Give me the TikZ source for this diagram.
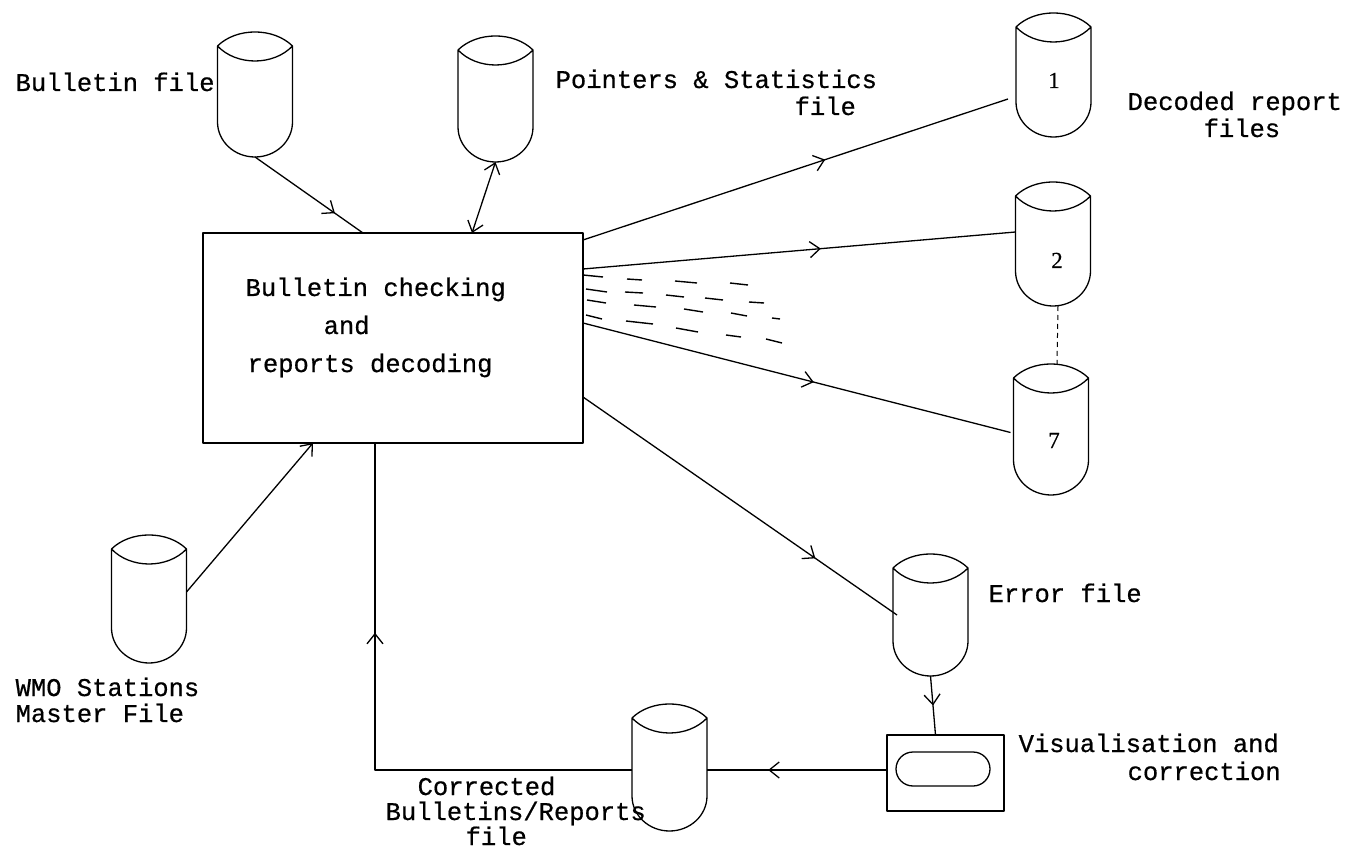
\documentclass[tikz,border=0pt]{standalone}
\usepackage{fontspec}
\setmonofont{Liberation Mono}[FakeBold=0.6]
\newfontfamily\digitfont{Liberation Serif}[FakeBold=0.4]
\usetikzlibrary{arrows.meta,decorations.markings,calc}
\newcommand\cylshape[2]{%
  \draw[shift={(#1.north west)}] (0,14) .. controls (19,-4.7) and (56,-4.7) .. (75,14)
     .. controls (56,34) and (19,34) .. (0,14) -- (0,#2-35)
     .. controls (0,#2-15.7) and (16.8,#2) .. (37.5,#2)
     .. controls (58.2,#2) and (75,#2-15.7) .. (75,#2-35) -- (75,14);
}
\begin{document}
\begin{tikzpicture}[x=1pt,y=-1pt, line width=1.3pt, line join=round,
  >={Straight Barb[length=10pt,width=16pt]},
  dbfile/.style={draw=none,minimum width=75pt,minimum height=#1pt,inner sep=0pt,outer sep=0pt},
  boxed/.style={draw,inner sep=0pt,outer sep=0pt},
  lbl/.style={font=\ttfamily\fontsize{25.5}{27}\selectfont, anchor=base west, inner sep=0pt},
  num/.style={font=\digitfont\fontsize{23}{25}\selectfont, anchor=base, inner sep=0pt},
  midarr/.style={postaction={decorate,decoration={markings,mark=at position #1 with {\arrow{>}}}}},
  dashmark/.style={line width=1.4pt}]
\useasboundingbox (0,0) rectangle (1355,850);

% main process box
\node[boxed, minimum width=380pt, minimum height=210pt] (main) at (393,338) {};
\node[lbl] (tm1) at (245,296) {Bulletin checking};
\node[lbl] (tm2) at (323,334) {and};
\node[lbl] (tm3) at (247,372) {reports decoding};

% files (cylinders)
\node[dbfile=125] (bf) at (255,94.5) {};
\node[dbfile=126] (ps) at (495.5,99) {};
\node[dbfile=124] (d1) at (1053.5,75) {};
\node[dbfile=124] (d2) at (1053,244) {};
\node[dbfile=131] (d7) at (1051,429.5) {};
\node[dbfile=122] (ef) at (930.5,615) {};
\node[dbfile=127] (cf) at (669.5,767.5) {};
\node[dbfile=128] (wf) at (149,599) {};
\cylshape{bf}{125}
\cylshape{ps}{126}
\cylshape{d1}{124}
\cylshape{d2}{124}
\cylshape{d7}{131}
\cylshape{ef}{122}
\cylshape{cf}{127}
\cylshape{wf}{128}
\node[num] (n1) at (1054,88) {1};
\node[num] (n2) at (1057,268) {2};
\node[num] (n7) at (1054,448) {7};

% visualisation terminal
\node[boxed, minimum width=117pt, minimum height=76pt] (vis) at (945.5,773) {};
\node[boxed, rounded corners=17pt, minimum width=94pt, minimum height=34pt] (scr) at (943,769) {};

% connectors
\draw[midarr=0.74] (bf.south) -- ([xshift=160pt]main.north west);
\draw[<->] ([xshift=269pt]main.north west) -- (ps.south);
\draw[midarr=0.57] ([yshift=-7pt]main.north east) -- ([xshift=-8pt,yshift=-24pt]d1.west);
\draw[midarr=0.55] ([yshift=-36pt]main.north east) -- ([yshift=12pt]d2.west);
\draw[midarr=0.54] ([yshift=-90pt]main.north east) -- ([xshift=-3pt,yshift=-3pt]d7.west);
\draw[midarr=0.74] ([yshift=-164pt]main.north east) -- ([xshift=4pt]ef.west);
\draw[midarr=0.5] (ef.south) -- ([xshift=-10pt]vis.north);
\draw[midarr=0.66] ([yshift=3pt]vis.west) -- ([yshift=-2.5pt]cf.east);
\draw[midarr=0.675] ([yshift=-2.5pt]cf.west) -| ([xshift=172pt]main.south west);
\draw[->] ([yshift=7pt]wf.east) -- ([xshift=110pt]main.south west);
\draw[dash pattern=on 5pt off 4pt, line width=1pt] ([xshift=5pt]d2.south) -- ([xshift=6pt]d7.north);

% fan of dashes for the intermediate decoded files
\foreach \a/\b/\c/\d in {583/275/603/277, 627/279/642/280, 675/281/697/283, 730/283/748/285,
  586/289/607/292, 625/292/643/293, 666/295/684/297, 705/298/723/300, 749/302/764/303,
  587/300/606/303, 634/305/656/307, 684/309/703/312, 731/313/747/316, 772/318/780/319,
  586/315/602/319, 626/321/653/324, 676/328/698/332, 726/335/741/337, 766/339/782/343}
  \draw[dashmark] (\a,\b) -- (\c,\d);

% labels
\node[lbl] (tbf) at (15,91) {Bulletin file};
\node[lbl] (tps1) at (555,88) {Pointers \& Statistics};
\node[lbl] (tps2) at (794,115) {file};
\node[lbl] (td1) at (1127,110) {Decoded report};
\node[lbl] (td2) at (1203,137) {files};
\node[lbl] (tef) at (988,602) {Error file};
\node[lbl] (tv1) at (1018,752) {Visualisation and};
\node[lbl] (tv2) at (1127,780) {correction};
\node[lbl] (tc1) at (417,795) {Corrected};
\node[lbl] (tc2) at (385,820) {Bulletins/Reports};
\node[lbl] (tc3) at (465,845) {file};
\node[lbl] (tw1) at (15,696) {WMO Stations};
\node[lbl] (tw2) at (15,722) {Master File};
\end{tikzpicture}
\end{document}
